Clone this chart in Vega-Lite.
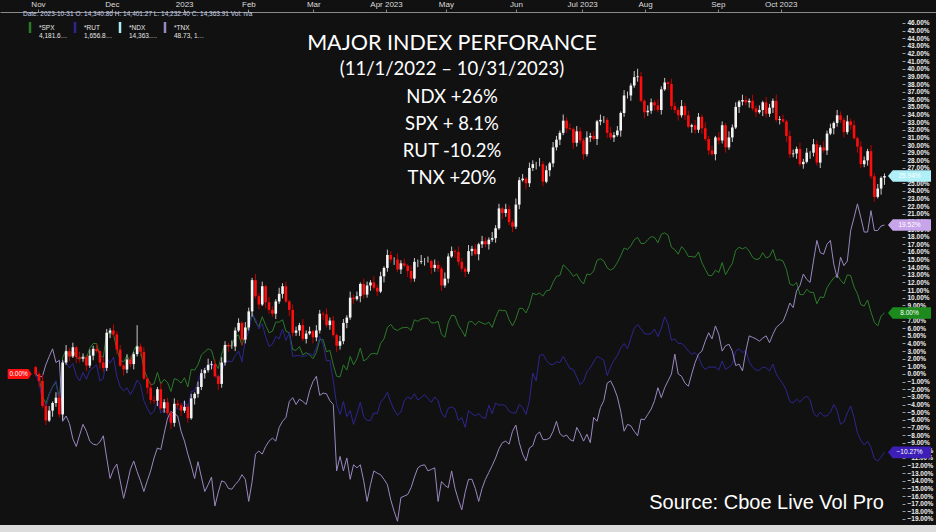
{
"$schema":"https://vega.github.io/schema/vega-lite/v6.json",
"width":936,"height":525,"autosize":"none",
"padding":{"left":0,"top":0,"right":0,"bottom":7},
"background":"#dcdcdc",
"config":{"view":{"fill":"#111111","stroke":null},"font":"Liberation Sans"},
"title":{"text":"MAJOR INDEX PERFORANCE","subtitle":["(11/1/2022 – 10/31/2023)","NDX +26%","SPX + 8.1%","RUT -10.2%","TNX +20%"],"anchor":"middle","frame":"group","dx":-16,"offset":-188,"font":"Lato","fontSize":21.5,"fontWeight":"normal","color":"#ffffff","subtitleFont":"Lato","subtitleFontSize":18.5,"subtitleColor":"#ffffff","subtitleLineHeight":27.3,"subtitlePadding":6},
"resolve":{"axis":{"x":"independent","y":"independent"}},
"data":{"values":[
{"i":0,"o":0.9,"h":1.1,"l":-0.3,"NDX":0,"SPX":0,"RUT":0,"TNX":0},
{"i":1,"o":0,"h":0.3,"l":-1.6,"NDX":-0.9,"SPX":-0.4,"RUT":-1.1,"TNX":-0.4},
{"i":2,"o":-0.9,"h":-0.1,"l":-4.5,"NDX":-4.2,"SPX":-2.9,"RUT":-3.6,"TNX":-0.3},
{"i":3,"o":-4.2,"h":-3.8,"l":-6.7,"NDX":-6.1,"SPX":-3.9,"RUT":-4.4,"TNX":1.2},
{"i":4,"o":-6.1,"h":-4.2,"l":-6.3,"NDX":-4.8,"SPX":-2.6,"RUT":-2.8,"TNX":2.3},
{"i":5,"o":-4.8,"h":-3.6,"l":-5.6,"NDX":-3.8,"SPX":-1.7,"RUT":-1.6,"TNX":3.3},
{"i":6,"o":-3.8,"h":-2.4,"l":-4.3,"NDX":-3.1,"SPX":-1.1,"RUT":-0.9,"TNX":1.5},
{"i":7,"o":-3.1,"h":-2.6,"l":-5.7,"NDX":-5.3,"SPX":-3.2,"RUT":-3.9,"TNX":1.8},
{"i":8,"o":-5.3,"h":1.8,"l":-6.0,"NDX":1.5,"SPX":2.2,"RUT":1.7,"TNX":-6.2},
{"i":9,"o":1.5,"h":3.8,"l":1.2,"NDX":3.0,"SPX":3.1,"RUT":1.5,"TNX":-5.5},
{"i":10,"o":3.0,"h":3.4,"l":1.7,"NDX":2.3,"SPX":2.2,"RUT":0.8,"TNX":-6.5},
{"i":11,"o":2.3,"h":4.1,"l":2.1,"NDX":3.5,"SPX":3.1,"RUT":1.4,"TNX":-8.5},
{"i":12,"o":3.5,"h":3.7,"l":1.4,"NDX":2.2,"SPX":2.2,"RUT":-0.2,"TNX":-9.5},
{"i":13,"o":2.2,"h":2.9,"l":1.5,"NDX":2.0,"SPX":1.9,"RUT":-0.9,"TNX":-8.0},
{"i":14,"o":2.0,"h":2.7,"l":1.6,"NDX":2.2,"SPX":2.4,"RUT":0.2,"TNX":-6.6},
{"i":15,"o":2.2,"h":2.5,"l":0.4,"NDX":1.1,"SPX":2.0,"RUT":-0.7,"TNX":-7.5},
{"i":16,"o":1.1,"h":3.2,"l":0.8,"NDX":2.4,"SPX":3.4,"RUT":0.5,"TNX":-8.8},
{"i":17,"o":2.4,"h":3.7,"l":1.8,"NDX":3.3,"SPX":4.0,"RUT":0.8,"TNX":-9.2},
{"i":18,"o":3.3,"h":3.9,"l":2.8,"NDX":3.0,"SPX":4.0,"RUT":1.2,"TNX":-9.3},
{"i":19,"o":3.0,"h":3.2,"l":0.7,"NDX":1.5,"SPX":2.4,"RUT":-0.9,"TNX":-8.9},
{"i":20,"o":1.5,"h":2.2,"l":0.3,"NDX":0.8,"SPX":2.2,"RUT":-0.6,"TNX":-8.1},
{"i":21,"o":0.8,"h":5.9,"l":0.4,"NDX":5.4,"SPX":5.4,"RUT":2.2,"TNX":-11.0},
{"i":22,"o":5.4,"h":6.0,"l":4.7,"NDX":5.7,"SPX":5.3,"RUT":1.4,"TNX":-13.7},
{"i":23,"o":5.7,"h":6.5,"l":4.9,"NDX":5.2,"SPX":5.2,"RUT":2.2,"TNX":-12.5},
{"i":24,"o":5.2,"h":5.6,"l":2.6,"NDX":3.2,"SPX":3.3,"RUT":-0.3,"TNX":-11.8},
{"i":25,"o":3.2,"h":3.8,"l":0.9,"NDX":1.1,"SPX":1.8,"RUT":-1.7,"TNX":-14.0},
{"i":26,"o":1.1,"h":1.3,"l":-0.2,"NDX":0.6,"SPX":1.6,"RUT":-2.2,"TNX":-16.3},
{"i":27,"o":0.6,"h":2.6,"l":0.1,"NDX":1.9,"SPX":2.4,"RUT":-1.8,"TNX":-14.5},
{"i":28,"o":1.9,"h":2.4,"l":0.9,"NDX":1.3,"SPX":1.6,"RUT":-2.7,"TNX":-12.5},
{"i":29,"o":1.3,"h":2.9,"l":0.6,"NDX":2.6,"SPX":3.1,"RUT":-1.9,"TNX":-11.4},
{"i":30,"o":2.6,"h":6.4,"l":2.3,"NDX":3.6,"SPX":3.8,"RUT":-0.8,"TNX":-12.8},
{"i":31,"o":3.6,"h":4.0,"l":2.3,"NDX":2.9,"SPX":3.2,"RUT":-1.4,"TNX":-14.0},
{"i":32,"o":2.9,"h":3.5,"l":-0.8,"NDX":-0.6,"SPX":0.6,"RUT":-3.5,"TNX":-15.4},
{"i":33,"o":-0.6,"h":-0.4,"l":-2.6,"NDX":-1.8,"SPX":-0.5,"RUT":-4.5,"TNX":-14.0},
{"i":34,"o":-1.8,"h":-1.1,"l":-3.9,"NDX":-3.4,"SPX":-1.4,"RUT":-5.3,"TNX":-12.7},
{"i":35,"o":-3.4,"h":-2.9,"l":-3.9,"NDX":-3.5,"SPX":-1.3,"RUT":-4.9,"TNX":-11.0},
{"i":36,"o":-3.5,"h":-1.7,"l":-4.2,"NDX":-2.0,"SPX":0.2,"RUT":-3.5,"TNX":-9.7},
{"i":37,"o":-2.0,"h":-1.2,"l":-4.8,"NDX":-4.5,"SPX":-1.3,"RUT":-5.1,"TNX":-9.9},
{"i":38,"o":-4.5,"h":-3.3,"l":-5.1,"NDX":-3.7,"SPX":-0.7,"RUT":-4.7,"TNX":-7.8},
{"i":39,"o":-3.7,"h":-3.1,"l":-5.3,"NDX":-5.1,"SPX":-1.1,"RUT":-5.2,"TNX":-5.8},
{"i":40,"o":-5.1,"h":-4.9,"l":-7.2,"NDX":-6.4,"SPX":-2.3,"RUT":-6.5,"TNX":-4.9},
{"i":41,"o":-6.4,"h":-3.2,"l":-6.9,"NDX":-3.9,"SPX":-0.6,"RUT":-4.3,"TNX":-5.2},
{"i":42,"o":-3.9,"h":-3.4,"l":-4.5,"NDX":-4.1,"SPX":-0.8,"RUT":-4.6,"TNX":-5.5},
{"i":43,"o":-4.1,"h":-3.8,"l":-5.5,"NDX":-4.8,"SPX":-1.2,"RUT":-4.6,"TNX":-7.5},
{"i":44,"o":-4.8,"h":-3.5,"l":-5.1,"NDX":-4.3,"SPX":-0.5,"RUT":-3.5,"TNX":-8.8},
{"i":45,"o":-4.3,"h":-3.9,"l":-6.4,"NDX":-5.8,"SPX":-1.7,"RUT":-4.6,"TNX":-10.5},
{"i":46,"o":-5.8,"h":-2.6,"l":-6.0,"NDX":-3.2,"SPX":0.6,"RUT":-2.3,"TNX":-12.0},
{"i":47,"o":-3.2,"h":-2.4,"l":-4.0,"NDX":-2.6,"SPX":0.5,"RUT":-2.2,"TNX":-13.7},
{"i":48,"o":-2.6,"h":-1.0,"l":-3.1,"NDX":-1.7,"SPX":1.2,"RUT":-1.0,"TNX":-11.5},
{"i":49,"o":-1.7,"h":0.6,"l":-2.1,"NDX":0.1,"SPX":2.5,"RUT":0.3,"TNX":-13.5},
{"i":50,"o":0.1,"h":0.8,"l":-0.6,"NDX":0.5,"SPX":2.9,"RUT":0.7,"TNX":-15.4},
{"i":51,"o":0.5,"h":2.0,"l":0.2,"NDX":1.2,"SPX":3.3,"RUT":1.1,"TNX":-14.5},
{"i":52,"o":1.2,"h":1.7,"l":0.6,"NDX":1.3,"SPX":3.1,"RUT":1.5,"TNX":-13.5},
{"i":53,"o":1.3,"h":1.9,"l":-0.5,"NDX":-0.3,"SPX":1.5,"RUT":0.2,"TNX":-17.3},
{"i":54,"o":-0.3,"h":-0.1,"l":-2.1,"NDX":-1.3,"SPX":0.7,"RUT":-0.9,"TNX":-15.5},
{"i":55,"o":-1.3,"h":2.2,"l":-1.8,"NDX":1.5,"SPX":2.6,"RUT":0.2,"TNX":-14.0},
{"i":56,"o":1.5,"h":4.3,"l":1.1,"NDX":3.8,"SPX":3.8,"RUT":1.6,"TNX":-14.2},
{"i":57,"o":3.8,"h":4.1,"l":2.9,"NDX":3.6,"SPX":3.7,"RUT":1.7,"TNX":-15.0},
{"i":58,"o":3.6,"h":4.4,"l":3.3,"NDX":3.6,"SPX":3.7,"RUT":1.6,"TNX":-15.1},
{"i":59,"o":3.6,"h":6.1,"l":3.0,"NDX":5.7,"SPX":4.9,"RUT":2.4,"TNX":-14.5},
{"i":60,"o":5.7,"h":7.3,"l":5.5,"NDX":6.7,"SPX":5.1,"RUT":3.0,"TNX":-14.0},
{"i":61,"o":6.7,"h":6.9,"l":3.7,"NDX":4.5,"SPX":3.8,"RUT":1.6,"TNX":-13.2},
{"i":62,"o":4.5,"h":6.8,"l":4.0,"NDX":6.1,"SPX":5.3,"RUT":4.6,"TNX":-13.8},
{"i":63,"o":6.1,"h":8.7,"l":5.7,"NDX":8.2,"SPX":6.4,"RUT":5.5,"TNX":-16.7},
{"i":64,"o":8.2,"h":12.6,"l":7.5,"NDX":12.3,"SPX":8.0,"RUT":7.9,"TNX":-14.1},
{"i":65,"o":12.3,"h":13.1,"l":9.9,"NDX":10.2,"SPX":6.8,"RUT":7.2,"TNX":-10.5},
{"i":66,"o":10.2,"h":10.6,"l":8.5,"NDX":9.1,"SPX":6.2,"RUT":5.9,"TNX":-10.1},
{"i":67,"o":9.1,"h":12.1,"l":8.9,"NDX":11.5,"SPX":7.5,"RUT":6.6,"TNX":-10.5},
{"i":68,"o":11.5,"h":11.7,"l":8.6,"NDX":9.4,"SPX":6.4,"RUT":4.9,"TNX":-9.5},
{"i":69,"o":9.4,"h":10.1,"l":7.9,"NDX":8.4,"SPX":5.4,"RUT":3.6,"TNX":-8.8},
{"i":70,"o":8.4,"h":8.9,"l":7.5,"NDX":7.9,"SPX":5.6,"RUT":3.9,"TNX":-8.4},
{"i":71,"o":7.9,"h":9.8,"l":7.2,"NDX":9.5,"SPX":6.8,"RUT":4.9,"TNX":-8.8},
{"i":72,"o":9.5,"h":11.3,"l":9.2,"NDX":10.5,"SPX":6.8,"RUT":4.6,"TNX":-7.0},
{"i":73,"o":10.5,"h":11.9,"l":9.9,"NDX":11.5,"SPX":7.1,"RUT":5.9,"TNX":-6.2},
{"i":74,"o":11.5,"h":12.1,"l":9.3,"NDX":9.5,"SPX":5.6,"RUT":4.4,"TNX":-5.7},
{"i":75,"o":9.5,"h":9.7,"l":7.6,"NDX":8.4,"SPX":5.4,"RUT":5.4,"TNX":-3.6},
{"i":76,"o":8.4,"h":9.1,"l":4.9,"NDX":5.4,"SPX":3.2,"RUT":2.3,"TNX":-3.1},
{"i":77,"o":5.4,"h":6.2,"l":5.0,"NDX":5.7,"SPX":3.1,"RUT":2.4,"TNX":-4.0},
{"i":78,"o":5.7,"h":6.7,"l":5.0,"NDX":6.4,"SPX":3.6,"RUT":2.4,"TNX":-3.3},
{"i":79,"o":6.4,"h":7.2,"l":4.3,"NDX":4.6,"SPX":2.5,"RUT":2.3,"TNX":-3.6},
{"i":80,"o":4.6,"h":5.7,"l":4.0,"NDX":5.3,"SPX":2.8,"RUT":2.4,"TNX":-4.0},
{"i":81,"o":5.3,"h":6.2,"l":5.1,"NDX":5.6,"SPX":2.5,"RUT":2.7,"TNX":-2.2},
{"i":82,"o":5.6,"h":5.8,"l":4.0,"NDX":4.8,"SPX":2.0,"RUT":2.4,"TNX":-1.0},
{"i":83,"o":4.8,"h":6.4,"l":4.3,"NDX":5.7,"SPX":2.8,"RUT":3.4,"TNX":-0.3},
{"i":84,"o":5.7,"h":8.4,"l":5.3,"NDX":7.9,"SPX":4.5,"RUT":4.9,"TNX":-2.8},
{"i":85,"o":7.9,"h":8.2,"l":7.1,"NDX":7.8,"SPX":4.5,"RUT":3.9,"TNX":-2.5},
{"i":86,"o":7.8,"h":8.6,"l":6.1,"NDX":6.4,"SPX":2.9,"RUT":1.7,"TNX":-2.6},
{"i":87,"o":6.4,"h":7.4,"l":5.8,"NDX":7.0,"SPX":3.1,"RUT":1.8,"TNX":-3.5},
{"i":88,"o":7.0,"h":7.6,"l":4.9,"NDX":5.1,"SPX":1.2,"RUT":-0.9,"TNX":-4.0},
{"i":89,"o":5.1,"h":5.3,"l":2.9,"NDX":3.7,"SPX":-0.3,"RUT":-4.0,"TNX":-12.7},
{"i":90,"o":3.7,"h":5.0,"l":3.2,"NDX":4.3,"SPX":-0.4,"RUT":-5.3,"TNX":-10.8},
{"i":91,"o":4.3,"h":7.2,"l":3.9,"NDX":6.7,"SPX":1.2,"RUT":-3.6,"TNX":-12.7},
{"i":92,"o":6.7,"h":7.7,"l":6.0,"NDX":7.4,"SPX":0.5,"RUT":-5.6,"TNX":-11.0},
{"i":93,"o":7.4,"h":10.8,"l":7.1,"NDX":10.0,"SPX":2.3,"RUT":-4.8,"TNX":-13.8},
{"i":94,"o":10.0,"h":10.4,"l":9.2,"NDX":9.8,"SPX":1.2,"RUT":-6.6,"TNX":-11.9},
{"i":95,"o":9.8,"h":10.8,"l":9.6,"NDX":10.2,"SPX":2.0,"RUT":-5.2,"TNX":-12.3},
{"i":96,"o":10.2,"h":12.0,"l":9.4,"NDX":11.8,"SPX":3.4,"RUT":-3.7,"TNX":-11.9},
{"i":97,"o":11.8,"h":12.5,"l":9.9,"NDX":10.4,"SPX":1.7,"RUT":-5.6,"TNX":-14.0},
{"i":98,"o":10.4,"h":12.1,"l":10.0,"NDX":11.6,"SPX":2.0,"RUT":-6.1,"TNX":-16.7},
{"i":99,"o":11.6,"h":12.3,"l":10.9,"NDX":12.0,"SPX":2.6,"RUT":-6.1,"TNX":-14.5},
{"i":100,"o":12.0,"h":12.8,"l":11.0,"NDX":11.3,"SPX":2.7,"RUT":-5.1,"TNX":-12.7},
{"i":101,"o":11.3,"h":11.7,"l":10.2,"NDX":10.8,"SPX":2.6,"RUT":-5.2,"TNX":-13.0},
{"i":102,"o":10.8,"h":13.4,"l":10.6,"NDX":12.8,"SPX":4.0,"RUT":-3.7,"TNX":-13.2},
{"i":103,"o":12.8,"h":14.1,"l":12.0,"NDX":13.9,"SPX":4.6,"RUT":-3.2,"TNX":-13.8},
{"i":104,"o":13.9,"h":16.3,"l":13.4,"NDX":15.6,"SPX":6.1,"RUT":-2.4,"TNX":-14.5},
{"i":105,"o":15.6,"h":16.1,"l":14.6,"NDX":15.0,"SPX":6.5,"RUT":-3.7,"TNX":-16.5},
{"i":106,"o":15.0,"h":15.3,"l":14.3,"NDX":15.0,"SPX":5.9,"RUT":-4.7,"TNX":-18.0},
{"i":107,"o":15.0,"h":15.8,"l":13.4,"NDX":13.7,"SPX":5.7,"RUT":-5.4,"TNX":-19.3},
{"i":108,"o":13.7,"h":14.9,"l":13.1,"NDX":14.5,"SPX":6.0,"RUT":-5.0,"TNX":-16.2},
{"i":109,"o":14.5,"h":15.1,"l":14.0,"NDX":14.2,"SPX":6.1,"RUT":-3.5,"TNX":-16.0},
{"i":110,"o":14.2,"h":14.4,"l":12.7,"NDX":13.5,"SPX":6.1,"RUT":-3.0,"TNX":-15.8},
{"i":111,"o":13.5,"h":14.2,"l":12.0,"NDX":12.5,"SPX":5.7,"RUT":-3.3,"TNX":-14.9},
{"i":112,"o":12.5,"h":15.2,"l":12.1,"NDX":14.7,"SPX":7.1,"RUT":-2.6,"TNX":-13.5},
{"i":113,"o":14.7,"h":15.0,"l":14.0,"NDX":14.7,"SPX":6.9,"RUT":-3.4,"TNX":-12.3},
{"i":114,"o":14.7,"h":15.6,"l":14.4,"NDX":14.8,"SPX":7.2,"RUT":-3.1,"TNX":-12.0},
{"i":115,"o":14.8,"h":15.2,"l":14.2,"NDX":14.8,"SPX":7.3,"RUT":-2.7,"TNX":-11.9},
{"i":116,"o":14.8,"h":15.4,"l":14.6,"NDX":14.8,"SPX":7.3,"RUT":-3.2,"TNX":-12.7},
{"i":117,"o":14.8,"h":15.0,"l":13.1,"NDX":13.9,"SPX":6.7,"RUT":-3.7,"TNX":-12.5},
{"i":118,"o":13.9,"h":15.0,"l":13.4,"NDX":14.3,"SPX":6.7,"RUT":-3.0,"TNX":-12.3},
{"i":119,"o":14.3,"h":14.8,"l":13.4,"NDX":13.8,"SPX":6.9,"RUT":-3.5,"TNX":-16.7},
{"i":120,"o":13.8,"h":14.1,"l":10.9,"NDX":11.6,"SPX":5.2,"RUT":-5.1,"TNX":-14.1},
{"i":121,"o":11.6,"h":13.3,"l":11.3,"NDX":12.5,"SPX":4.8,"RUT":-5.7,"TNX":-14.6},
{"i":122,"o":12.5,"h":15.8,"l":11.9,"NDX":15.4,"SPX":6.8,"RUT":-4.5,"TNX":-14.9},
{"i":123,"o":15.4,"h":16.7,"l":15.2,"NDX":16.1,"SPX":7.7,"RUT":-4.3,"TNX":-12.7},
{"i":124,"o":16.1,"h":16.3,"l":15.2,"NDX":16.0,"SPX":7.6,"RUT":-4.6,"TNX":-15.0},
{"i":125,"o":16.0,"h":16.7,"l":14.2,"NDX":14.7,"SPX":6.4,"RUT":-6.1,"TNX":-16.5},
{"i":126,"o":14.7,"h":15.2,"l":13.4,"NDX":13.8,"SPX":5.7,"RUT":-5.7,"TNX":-17.8},
{"i":127,"o":13.8,"h":14.1,"l":12.7,"NDX":13.4,"SPX":4.9,"RUT":-7.0,"TNX":-15.5},
{"i":128,"o":13.4,"h":16.9,"l":13.1,"NDX":16.1,"SPX":6.8,"RUT":-4.8,"TNX":-13.8},
{"i":129,"o":16.1,"h":16.8,"l":15.5,"NDX":16.4,"SPX":6.9,"RUT":-5.2,"TNX":-13.8},
{"i":130,"o":16.4,"h":17.0,"l":15.5,"NDX":15.7,"SPX":6.4,"RUT":-5.5,"TNX":-15.0},
{"i":131,"o":15.7,"h":17.2,"l":14.9,"NDX":17.0,"SPX":6.9,"RUT":-5.2,"TNX":-16.7},
{"i":132,"o":17.0,"h":18.1,"l":16.5,"NDX":17.4,"SPX":6.7,"RUT":-5.7,"TNX":-15.0},
{"i":133,"o":17.4,"h":17.9,"l":16.6,"NDX":17.0,"SPX":6.5,"RUT":-5.8,"TNX":-13.8},
{"i":134,"o":17.0,"h":17.9,"l":16.3,"NDX":17.6,"SPX":6.8,"RUT":-4.1,"TNX":-12.9},
{"i":135,"o":17.6,"h":18.6,"l":17.3,"NDX":17.8,"SPX":6.1,"RUT":-5.2,"TNX":-12.0},
{"i":136,"o":17.8,"h":19.5,"l":17.2,"NDX":19.1,"SPX":7.4,"RUT":-3.8,"TNX":-11.0},
{"i":137,"o":19.1,"h":22.3,"l":18.9,"NDX":21.7,"SPX":8.4,"RUT":-4.1,"TNX":-9.8},
{"i":138,"o":21.7,"h":21.9,"l":20.3,"NDX":21.1,"SPX":8.3,"RUT":-4.0,"TNX":-9.0},
{"i":139,"o":21.1,"h":22.3,"l":20.6,"NDX":21.6,"SPX":8.3,"RUT":-4.2,"TNX":-8.8},
{"i":140,"o":21.6,"h":22.1,"l":19.5,"NDX":19.9,"SPX":7.1,"RUT":-4.9,"TNX":-9.2},
{"i":141,"o":19.9,"h":20.2,"l":18.6,"NDX":19.3,"SPX":6.3,"RUT":-5.1,"TNX":-7.5},
{"i":142,"o":19.3,"h":23.0,"l":19.0,"NDX":22.2,"SPX":7.2,"RUT":-5.1,"TNX":-6.7},
{"i":143,"o":22.2,"h":25.8,"l":21.6,"NDX":25.4,"SPX":8.6,"RUT":-4.0,"TNX":-9.0},
{"i":144,"o":25.4,"h":26.2,"l":25.2,"NDX":25.6,"SPX":8.6,"RUT":-4.4,"TNX":-10.5},
{"i":145,"o":25.6,"h":25.8,"l":24.2,"NDX":25.0,"SPX":8.0,"RUT":-5.3,"TNX":-11.4},
{"i":146,"o":25.0,"h":27.7,"l":24.5,"NDX":27.0,"SPX":9.0,"RUT":-3.5,"TNX":-9.7},
{"i":147,"o":27.0,"h":28.0,"l":26.6,"NDX":27.5,"SPX":10.6,"RUT":0.1,"TNX":-9.4},
{"i":148,"o":27.5,"h":27.8,"l":26.8,"NDX":27.5,"SPX":10.4,"RUT":-0.9,"TNX":-8.0},
{"i":149,"o":27.5,"h":28.3,"l":27.2,"NDX":27.5,"SPX":10.6,"RUT":2.4,"TNX":-7.6},
{"i":150,"o":27.5,"h":27.9,"l":24.6,"NDX":25.2,"SPX":10.2,"RUT":2.6,"TNX":-8.6},
{"i":151,"o":25.2,"h":27.3,"l":25.0,"NDX":26.7,"SPX":10.9,"RUT":1.8,"TNX":-8.6},
{"i":152,"o":26.7,"h":27.8,"l":25.9,"NDX":27.6,"SPX":11.0,"RUT":1.3,"TNX":-8.4},
{"i":153,"o":27.6,"h":30.4,"l":27.1,"NDX":29.7,"SPX":12.0,"RUT":1.2,"TNX":-7.5},
{"i":154,"o":29.7,"h":31.2,"l":29.3,"NDX":30.7,"SPX":12.8,"RUT":1.6,"TNX":-6.2},
{"i":155,"o":30.7,"h":31.9,"l":30.0,"NDX":31.6,"SPX":12.9,"RUT":1.5,"TNX":-7.8},
{"i":156,"o":31.6,"h":34.0,"l":31.3,"NDX":33.2,"SPX":14.3,"RUT":2.3,"TNX":-8.2},
{"i":157,"o":33.2,"h":33.6,"l":31.6,"NDX":32.2,"SPX":13.9,"RUT":1.5,"TNX":-8.0},
{"i":158,"o":32.2,"h":32.8,"l":31.9,"NDX":32.1,"SPX":13.4,"RUT":0.7,"TNX":-8.6},
{"i":159,"o":32.1,"h":32.3,"l":29.5,"NDX":30.3,"SPX":12.8,"RUT":0.6,"TNX":-8.8},
{"i":160,"o":30.3,"h":32.5,"l":29.8,"NDX":31.8,"SPX":13.1,"RUT":-0.4,"TNX":-7.0},
{"i":161,"o":31.8,"h":32.3,"l":30.2,"NDX":30.6,"SPX":12.3,"RUT":-1.4,"TNX":-7.8},
{"i":162,"o":30.6,"h":30.9,"l":28.1,"NDX":28.8,"SPX":11.8,"RUT":-1.0,"TNX":-8.8},
{"i":163,"o":28.8,"h":31.8,"l":28.5,"NDX":31.0,"SPX":13.1,"RUT":0.3,"TNX":-7.9},
{"i":164,"o":31.0,"h":31.6,"l":30.4,"NDX":31.2,"SPX":13.0,"RUT":0.8,"TNX":-9.0},
{"i":165,"o":31.2,"h":31.8,"l":30.6,"NDX":30.8,"SPX":13.5,"RUT":1.6,"TNX":-5.7},
{"i":166,"o":30.8,"h":33.3,"l":30.0,"NDX":33.1,"SPX":14.9,"RUT":2.3,"TNX":-6.2},
{"i":167,"o":33.1,"h":34.0,"l":32.6,"NDX":33.3,"SPX":15.1,"RUT":2.1,"TNX":-4.4},
{"i":168,"o":33.3,"h":33.8,"l":32.9,"NDX":33.3,"SPX":14.8,"RUT":1.8,"TNX":-3.5},
{"i":169,"o":33.3,"h":33.6,"l":30.9,"NDX":31.6,"SPX":13.9,"RUT":-0.2,"TNX":-1.2},
{"i":170,"o":31.6,"h":32.4,"l":30.7,"NDX":31.0,"SPX":13.6,"RUT":0.9,"TNX":-0.9},
{"i":171,"o":31.0,"h":31.7,"l":30.4,"NDX":31.3,"SPX":13.9,"RUT":1.8,"TNX":-1.8},
{"i":172,"o":31.3,"h":32.5,"l":31.1,"NDX":31.9,"SPX":14.6,"RUT":2.4,"TNX":-3.0},
{"i":173,"o":31.9,"h":34.4,"l":31.1,"NDX":34.2,"SPX":15.5,"RUT":3.4,"TNX":-4.9},
{"i":174,"o":34.2,"h":37.2,"l":33.7,"NDX":36.5,"SPX":16.5,"RUT":4.0,"TNX":-7.5},
{"i":175,"o":36.5,"h":37.0,"l":36.1,"NDX":36.5,"SPX":16.3,"RUT":3.3,"TNX":-6.6},
{"i":176,"o":36.5,"h":38.1,"l":35.8,"NDX":37.8,"SPX":16.8,"RUT":4.7,"TNX":-6.8},
{"i":177,"o":37.8,"h":39.7,"l":37.5,"NDX":38.9,"SPX":17.6,"RUT":6.0,"TNX":-7.5},
{"i":178,"o":38.9,"h":40.0,"l":38.3,"NDX":39.0,"SPX":17.9,"RUT":6.5,"TNX":-8.1},
{"i":179,"o":39.0,"h":39.6,"l":35.6,"NDX":35.8,"SPX":17.1,"RUT":5.9,"TNX":-5.9},
{"i":180,"o":35.8,"h":36.0,"l":33.5,"NDX":34.3,"SPX":17.1,"RUT":5.3,"TNX":-6.0},
{"i":181,"o":34.3,"h":35.2,"l":33.8,"NDX":34.5,"SPX":17.6,"RUT":5.2,"TNX":-5.3},
{"i":182,"o":34.5,"h":36.1,"l":34.1,"NDX":35.6,"SPX":18.0,"RUT":5.3,"TNX":-4.6},
{"i":183,"o":35.6,"h":35.9,"l":34.5,"NDX":35.2,"SPX":17.9,"RUT":5.9,"TNX":-3.5},
{"i":184,"o":35.2,"h":36.0,"l":34.3,"NDX":34.6,"SPX":17.2,"RUT":4.9,"TNX":-1.8},
{"i":185,"o":34.6,"h":37.7,"l":34.0,"NDX":37.3,"SPX":18.3,"RUT":6.0,"TNX":-3.1},
{"i":186,"o":37.3,"h":38.8,"l":37.1,"NDX":38.2,"SPX":18.5,"RUT":7.5,"TNX":-1.8},
{"i":187,"o":38.2,"h":38.4,"l":37.2,"NDX":38.0,"SPX":18.2,"RUT":6.5,"TNX":-0.9},
{"i":188,"o":38.0,"h":38.7,"l":34.6,"NDX":35.1,"SPX":16.6,"RUT":4.4,"TNX":0.0},
{"i":189,"o":35.1,"h":35.6,"l":34.2,"NDX":34.6,"SPX":16.3,"RUT":4.6,"TNX":2.6},
{"i":190,"o":34.6,"h":34.9,"l":33.2,"NDX":33.9,"SPX":15.7,"RUT":4.0,"TNX":0.0},
{"i":191,"o":33.9,"h":35.9,"l":33.6,"NDX":35.1,"SPX":16.7,"RUT":4.0,"TNX":-0.3},
{"i":192,"o":35.1,"h":35.5,"l":33.3,"NDX":33.9,"SPX":16.2,"RUT":3.6,"TNX":-1.2},
{"i":193,"o":33.9,"h":34.5,"l":32.2,"NDX":32.4,"SPX":15.4,"RUT":3.0,"TNX":-1.6},
{"i":194,"o":32.4,"h":32.8,"l":31.6,"NDX":32.6,"SPX":15.4,"RUT":2.6,"TNX":0.0},
{"i":195,"o":32.6,"h":33.3,"l":31.5,"NDX":32.0,"SPX":15.3,"RUT":2.8,"TNX":1.5},
{"i":196,"o":32.0,"h":34.2,"l":31.6,"NDX":33.7,"SPX":16.0,"RUT":2.3,"TNX":2.6},
{"i":197,"o":33.7,"h":34.0,"l":31.5,"NDX":32.2,"SPX":14.6,"RUT":1.1,"TNX":3.0},
{"i":198,"o":32.2,"h":33.0,"l":30.5,"NDX":30.8,"SPX":13.7,"RUT":0.6,"TNX":4.3},
{"i":199,"o":30.8,"h":31.2,"l":28.7,"NDX":29.3,"SPX":12.9,"RUT":0.9,"TNX":5.4},
{"i":200,"o":29.3,"h":29.9,"l":28.6,"NDX":28.8,"SPX":12.9,"RUT":0.9,"TNX":4.6},
{"i":201,"o":28.8,"h":31.2,"l":28.0,"NDX":31.0,"SPX":13.6,"RUT":0.9,"TNX":6.3},
{"i":202,"o":31.0,"h":31.7,"l":30.1,"NDX":30.6,"SPX":13.3,"RUT":0.5,"TNX":5.2},
{"i":203,"o":30.6,"h":33.1,"l":30.2,"NDX":32.6,"SPX":14.6,"RUT":1.7,"TNX":3.0},
{"i":204,"o":32.6,"h":32.9,"l":29.0,"NDX":29.7,"SPX":13.0,"RUT":0.6,"TNX":3.7},
{"i":205,"o":29.7,"h":31.8,"l":29.4,"NDX":31.0,"SPX":13.8,"RUT":0.9,"TNX":3.9},
{"i":206,"o":31.0,"h":32.7,"l":30.4,"NDX":32.3,"SPX":14.5,"RUT":1.3,"TNX":3.0},
{"i":207,"o":32.3,"h":35.6,"l":32.1,"NDX":35.0,"SPX":16.2,"RUT":3.0,"TNX":1.1},
{"i":208,"o":35.0,"h":35.9,"l":34.2,"NDX":35.7,"SPX":16.6,"RUT":3.3,"TNX":1.3},
{"i":209,"o":35.7,"h":36.6,"l":35.2,"NDX":35.9,"SPX":16.4,"RUT":2.8,"TNX":0.4},
{"i":210,"o":35.9,"h":36.4,"l":35.2,"NDX":35.6,"SPX":16.6,"RUT":3.1,"TNX":3.0},
{"i":211,"o":35.6,"h":36.1,"l":34.9,"NDX":35.8,"SPX":16.1,"RUT":1.6,"TNX":5.0},
{"i":212,"o":35.8,"h":36.6,"l":34.5,"NDX":34.8,"SPX":15.3,"RUT":0.9,"TNX":4.8},
{"i":213,"o":34.8,"h":35.2,"l":33.7,"NDX":34.3,"SPX":15.0,"RUT":0.5,"TNX":4.6},
{"i":214,"o":34.3,"h":35.2,"l":34.1,"NDX":34.6,"SPX":15.1,"RUT":0.5,"TNX":4.3},
{"i":215,"o":34.6,"h":35.8,"l":33.8,"NDX":35.6,"SPX":15.9,"RUT":0.9,"TNX":4.7},
{"i":216,"o":35.6,"h":36.3,"l":33.6,"NDX":34.1,"SPX":15.2,"RUT":0.8,"TNX":5.0},
{"i":217,"o":34.1,"h":35.4,"l":33.7,"NDX":34.9,"SPX":15.4,"RUT":0.4,"TNX":4.1},
{"i":218,"o":34.9,"h":36.1,"l":34.2,"NDX":35.8,"SPX":16.3,"RUT":1.3,"TNX":5.2},
{"i":219,"o":35.8,"h":36.6,"l":33.0,"NDX":33.3,"SPX":14.9,"RUT":0.0,"TNX":6.1},
{"i":220,"o":33.3,"h":33.8,"l":32.7,"NDX":33.4,"SPX":15.0,"RUT":-0.7,"TNX":6.5},
{"i":221,"o":33.4,"h":34.0,"l":32.9,"NDX":33.1,"SPX":14.8,"RUT":-1.3,"TNX":6.9},
{"i":222,"o":33.1,"h":33.3,"l":30.4,"NDX":31.2,"SPX":13.7,"RUT":-2.2,"TNX":8.0},
{"i":223,"o":31.2,"h":31.9,"l":28.3,"NDX":28.8,"SPX":11.8,"RUT":-3.6,"TNX":9.3},
{"i":224,"o":28.8,"h":29.4,"l":28.4,"NDX":28.9,"SPX":11.6,"RUT":-3.8,"TNX":8.7},
{"i":225,"o":28.9,"h":29.8,"l":28.2,"NDX":29.5,"SPX":12.0,"RUT":-3.3,"TNX":10.9},
{"i":226,"o":29.5,"h":30.3,"l":27.2,"NDX":27.5,"SPX":10.4,"RUT":-3.7,"TNX":11.6},
{"i":227,"o":27.5,"h":28.2,"l":26.9,"NDX":27.8,"SPX":10.4,"RUT":-3.2,"TNX":13.1},
{"i":228,"o":27.8,"h":29.6,"l":27.6,"NDX":29.0,"SPX":11.1,"RUT":-2.9,"TNX":12.4},
{"i":229,"o":29.0,"h":29.2,"l":28.2,"NDX":29.0,"SPX":10.7,"RUT":-3.4,"TNX":12.0},
{"i":230,"o":29.0,"h":30.8,"l":28.5,"NDX":30.1,"SPX":10.7,"RUT":-5.1,"TNX":14.8},
{"i":231,"o":30.1,"h":30.6,"l":27.3,"NDX":27.7,"SPX":9.2,"RUT":-5.6,"TNX":17.5},
{"i":232,"o":27.7,"h":30.0,"l":27.0,"NDX":29.7,"SPX":10.1,"RUT":-5.0,"TNX":15.9},
{"i":233,"o":29.7,"h":30.5,"l":29.0,"NDX":29.3,"SPX":10.0,"RUT":-5.5,"TNX":15.7},
{"i":234,"o":29.3,"h":31.9,"l":28.7,"NDX":31.5,"SPX":11.3,"RUT":-5.5,"TNX":17.0},
{"i":235,"o":31.5,"h":32.8,"l":31.3,"NDX":32.2,"SPX":12.0,"RUT":-5.0,"TNX":17.5},
{"i":236,"o":32.2,"h":33.1,"l":31.4,"NDX":32.9,"SPX":12.6,"RUT":-4.0,"TNX":14.4},
{"i":237,"o":32.9,"h":34.6,"l":32.4,"NDX":33.9,"SPX":13.0,"RUT":-4.8,"TNX":12.6},
{"i":238,"o":33.9,"h":34.4,"l":32.9,"NDX":33.3,"SPX":12.3,"RUT":-6.6,"TNX":15.3},
{"i":239,"o":33.3,"h":33.6,"l":31.0,"NDX":31.7,"SPX":11.8,"RUT":-6.3,"TNX":14.2},
{"i":240,"o":31.7,"h":33.9,"l":31.4,"NDX":33.1,"SPX":13.0,"RUT":-5.1,"TNX":14.8},
{"i":241,"o":33.1,"h":33.5,"l":32.0,"NDX":32.6,"SPX":12.9,"RUT":-4.2,"TNX":18.8},
{"i":242,"o":32.6,"h":33.2,"l":30.7,"NDX":30.9,"SPX":11.4,"RUT":-5.7,"TNX":20.5},
{"i":243,"o":30.9,"h":31.1,"l":29.0,"NDX":29.8,"SPX":10.5,"RUT":-7.7,"TNX":22.3},
{"i":244,"o":29.8,"h":30.5,"l":27.0,"NDX":27.5,"SPX":9.1,"RUT":-8.7,"TNX":20.5},
{"i":245,"o":27.5,"h":28.5,"l":27.1,"NDX":28.0,"SPX":8.9,"RUT":-9.3,"TNX":18.6},
{"i":246,"o":28.0,"h":29.5,"l":27.3,"NDX":29.2,"SPX":9.7,"RUT":-8.8,"TNX":18.6},
{"i":247,"o":29.2,"h":30.0,"l":25.6,"NDX":25.9,"SPX":8.1,"RUT":-9.6,"TNX":21.4},
{"i":248,"o":25.9,"h":26.3,"l":22.6,"NDX":23.2,"SPX":6.8,"RUT":-11.1,"TNX":18.8},
{"i":249,"o":23.2,"h":24.9,"l":23.0,"NDX":24.3,"SPX":6.3,"RUT":-11.4,"TNX":18.8},
{"i":250,"o":24.3,"h":25.9,"l":23.5,"NDX":25.7,"SPX":7.6,"RUT":-10.9,"TNX":19.4},
{"i":251,"o":25.74,"h":26.27,"l":24.79,"NDX":25.94,"SPX":8.0,"RUT":-10.27,"TNX":19.52}
]},
"layer":[
{"transform":[{"fold":["SPX","RUT","TNX"],"as":["k","v"]}],
 "mark":{"type":"line","strokeWidth":1},
 "encoding":{
  "x":{"field":"i","type":"quantitative","scale":{"domain":[-9.07,264.75],"nice":false,"zero":false},
   "axis":{"orient":"top","offset":-12,"title":null,"grid":false,"values":[0.68,22.5,43.9,62.9,82.1,103.6,121.3,142,161.6,180.2,201.7,220.3],
    "labelExpr":"['Nov','Dec','2023','Feb','Mar','Apr 2023','May','Jun','Jul 2023','Aug','Sep','Oct 2023'][indexof([0.68,22.5,43.9,62.9,82.1,103.6,121.3,142,161.6,180.2,201.7,220.3], datum.value)]",
    "labelFontSize":8,"labelColor":"#dddddd","labelPadding":1,"tickSize":3,"tickColor":"#888888","domainColor":"#8a8a8a","labelFlush":false,"labelOverlap":false}},
  "y":{"field":"v","type":"quantitative","scale":{"domain":[-19.79,49.01],"nice":false,"zero":false},
   "axis":{"orient":"right","offset":-34,"title":null,"grid":false,"domain":false,
    "values":[-19,-18,-17,-16,-15,-14,-13,-12,-11,-10,-9,-8,-7,-6,-5,-4,-3,-2,-1,0,1,2,3,4,5,6,7,8,9,10,11,12,13,14,15,16,17,18,19,20,21,22,23,24,25,26,27,28,29,30,31,32,33,34,35,36,37,38,39,40,41,42,43,44,45,46],
    "labelExpr":"format(datum.value, '.2f') + '%'","labelFontSize":6.5,"labelFontWeight":"bold","labelColor":"#eeeeee","labelPadding":2,"tickSize":3,"tickColor":"#999999","labelOverlap":false,"labelSeparation":0,"labelFlush":false,"labelBound":false}},
  "color":{"field":"k","type":"nominal","scale":{"domain":["SPX","RUT","NDX","TNX"],"range":["#2b7a2b","#2d2690","#a9eef7","#9a88c0"]},
   "legend":{"orient":"none","legendX":23,"legendY":11,"padding":0,"direction":"horizontal","columns":4,
    "title":"Date: 2023-10-31  O: 14,340.86  H: 14,401.27  L: 14,232.40  C: 14,363.91  Vol: n/a","titleFontSize":6.5,"titleColor":"#c8d4ea","titleFontWeight":"normal","titlePadding":3,"titleLimit":300,
    "labelFontSize":6.5,"labelColor":"#e6e6e6","labelOffset":2,"labelLimit":31,"columnPadding":0,
    "symbolType":"M0,-1L0,1","symbolSize":121,"symbolStrokeWidth":2.5,
    "labelExpr":"datum.label == 'SPX' ? ['*SPX', '4,181.68, 8.00%'] : datum.label == 'RUT' ? ['*RUT', '1,656.89, -10.27%'] : datum.label == 'NDX' ? ['*NDX', '14,363.91, 25.94%'] : ['*TNX', '48.73, 19.52%']"}}
 }},
{"mark":{"type":"rule","strokeWidth":1},
 "encoding":{
  "x":{"field":"i","type":"quantitative","scale":{"domain":[-9.07,264.75],"nice":false,"zero":false},"axis":null},
  "y":{"field":"l","type":"quantitative","scale":{"domain":[-19.79,49.01],"nice":false,"zero":false},"axis":null},
  "y2":{"field":"h"},
  "color":{"condition":{"test":"datum.NDX >= datum.o","value":"#c8c8c8"},"value":"#c00000"}}},
{"mark":{"type":"bar","width":2.6},
 "encoding":{
  "x":{"field":"i","type":"quantitative","scale":{"domain":[-9.07,264.75],"nice":false,"zero":false},"axis":null},
  "y":{"field":"o","type":"quantitative","scale":{"domain":[-19.79,49.01],"nice":false,"zero":false},"axis":null},
  "y2":{"field":"NDX"},
  "color":{"condition":{"test":"datum.NDX >= datum.o","value":"#f4f4f4"},"value":"#ff0d0d"}}},
{"transform":[{"filter":"datum.i == 251"},{"fold":["NDX","SPX","RUT","TNX"],"as":["k","v"]}],
 "mark":{"type":"point","shape":"M-1,0L-0.78,-0.27L1,-0.27L1,0.27L-0.78,0.27Z","size":1849,"filled":true,"opacity":1,"xOffset":25},
 "encoding":{
  "x":{"field":"i","type":"quantitative","scale":{"domain":[-9.07,264.75],"nice":false,"zero":false},"axis":null},
  "y":{"field":"v","type":"quantitative","scale":{"domain":[-19.79,49.01],"nice":false,"zero":false},"axis":null},
  "fill":{"field":"k","type":"nominal","scale":{"domain":["NDX","SPX","RUT","TNX"],"range":["#aeeff8","#1c8a1c","#3d1fb8","#c8a4ea"]},"legend":null}}},
{"transform":[{"filter":"datum.i == 251"},{"fold":["NDX","SPX","RUT","TNX"],"as":["k","v"]},{"calculate":"format(datum.v, '.2f') + '%'","as":"lab"}],
 "mark":{"type":"text","xOffset":25,"fontSize":6.5,"color":"#ffffff","align":"center","baseline":"middle"},
 "encoding":{
  "x":{"field":"i","type":"quantitative","scale":{"domain":[-9.07,264.75],"nice":false,"zero":false},"axis":null},
  "y":{"field":"v","type":"quantitative","scale":{"domain":[-19.79,49.01],"nice":false,"zero":false},"axis":null},
  "text":{"field":"lab"}}},
{"transform":[{"filter":"datum.i == 0"}],
 "mark":{"type":"point","shape":"M1,0L0.72,-0.42L-1,-0.42L-1,0.42L0.72,0.42Z","size":576,"filled":true,"opacity":1,"color":"#ff1010","xOffset":-16},
 "encoding":{
  "x":{"field":"i","type":"quantitative","scale":{"domain":[-9.07,264.75],"nice":false,"zero":false},"axis":null},
  "y":{"field":"NDX","type":"quantitative","scale":{"domain":[-19.79,49.01],"nice":false,"zero":false},"axis":null}}},
{"transform":[{"filter":"datum.i == 0"},{"calculate":"format(datum.NDX, '.2f') + '%'","as":"lab"}],
 "mark":{"type":"text","xOffset":-17,"fontSize":6.5,"color":"#ffffff","align":"center","baseline":"middle"},
 "encoding":{
  "x":{"field":"i","type":"quantitative","scale":{"domain":[-9.07,264.75],"nice":false,"zero":false},"axis":null},
  "y":{"field":"NDX","type":"quantitative","scale":{"domain":[-19.79,49.01],"nice":false,"zero":false},"axis":null},
  "text":{"field":"lab"}}},
{"data":{"values":[{"t":"Source: Cboe Live Vol Pro"}]},
 "mark":{"type":"text","align":"right","baseline":"alphabetic","fontSize":20,"font":"Liberation Sans","color":"#ffffff"},
 "encoding":{
  "x":{"datum":250.8,"type":"quantitative","scale":{"domain":[-9.07,264.75],"nice":false,"zero":false},"axis":null},
  "y":{"datum":-17.7,"type":"quantitative","scale":{"domain":[-19.79,49.01],"nice":false,"zero":false},"axis":null},
  "text":{"field":"t"}}}
]
}
